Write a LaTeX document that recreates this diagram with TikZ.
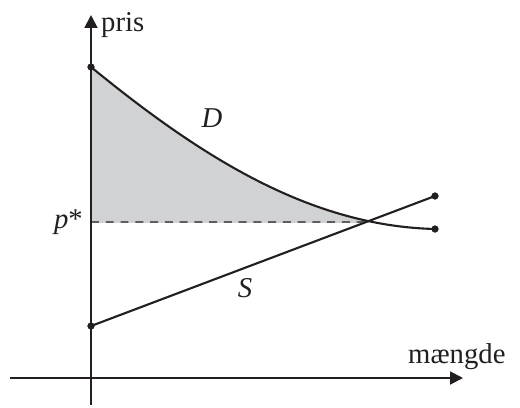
\documentclass[tikz,border=0pt]{standalone}
\usepackage{fontspec}
\setmainfont{Liberation Serif}
\usetikzlibrary{arrows.meta,calc,positioning}
\definecolor{ink}{HTML}{231F20}
\definecolor{surplus}{HTML}{D1D2D4}
\newcommand{\axisfont}{\fontsize{24.5}{29}\selectfont}
\tikzset{
 every node/.append style={font=\axisfont,text=ink},
 axis/.style={-{Triangle[length=11pt,width=11pt]},draw=ink,line width=1.7pt},
 curve/.style={draw=ink,line width=1.8pt},
 guide/.style={draw=ink,line width=1.2pt,dash pattern=on 6.8pt off 5.8pt},
 dot/.style={circle,fill=ink,inner sep=0pt,minimum size=6pt},
 lbl/.style={inner sep=0pt},
}
\begin{document}
\begin{tikzpicture}[x=0.03cm,y=-0.03cm]

\useasboundingbox (0,0) rectangle (520,407);
% axes
\coordinate (ybot) at (91,405); \coordinate (ytop) at (91,15);
\coordinate (xleft) at (10,378); \coordinate (xright) at (463,378);
% demand and supply end points
\node[dot] (dstart) at (91,67) {}; \node[dot] (dend) at (435,229) {};
\node[dot] (sstart) at (91,326) {}; \node[dot] (send) at (435,196) {};
\coordinate (eq) at ($(sstart.center)!0.8!(send.center)$);
\coordinate (pstar) at (91,222);
% surplus area
\begin{scope}
\clip (91,0) rectangle (eq);
\fill[surplus] (dstart.center) .. controls (201,157) and (310,226) .. (dend.center) -- (91,229) -- cycle;
\end{scope}
\draw[guide] (pstar) -- (eq);
\draw[axis] (ybot) -- (ytop);
\draw[axis] (xleft) -- (xright);
\draw[curve] (dstart.center) .. controls (201,157) and (310,226) .. (dend.center);
\draw[curve] (sstart.center) -- (send.center);
\node[dot] at (dstart) {}; \node[dot] at (dend) {};
\node[dot] at (sstart) {}; \node[dot] at (send) {};
% labels
\node[lbl,anchor=base west] (pris) at (101,31) {pris};
\node[lbl,anchor=base west] (maengde) at (408,363) {mængde};
\node[lbl,anchor=base east] (plabel) at (83,228) {\textit{p}*};
\node[lbl] (dlabel) at (212,118) {\textit{D}};
\node[lbl] (slabel) at (245,288) {\textit{S}};

\end{tikzpicture}
\end{document}
